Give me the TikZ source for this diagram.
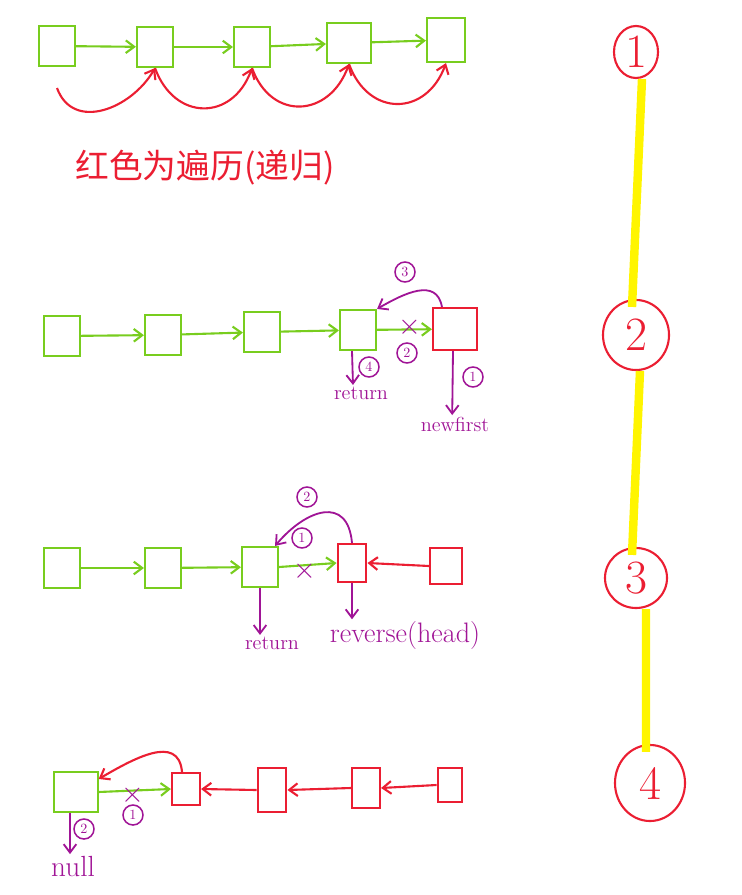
\documentclass[tikz,border=0pt]{standalone}
\usepackage{fontspec}
\newfontfamily\cjk{Noto Sans CJK SC}
\usetikzlibrary{arrows.meta,shapes.geometric}
\definecolor{lgreen}{RGB}{120,205,30}
\definecolor{hred}{RGB}{235,30,50}
\definecolor{hpurple}{RGB}{160,20,150}
\definecolor{hyellow}{RGB}{255,245,0}
\begin{document}
\begin{tikzpicture}[x=0.025cm,y=-0.025cm,
  gbox/.style={draw=lgreen,line width=1.5pt,minimum width=0.9cm,minimum height=1cm,inner sep=0pt},
  rbox/.style={draw=hred,line width=1.5pt,minimum width=0.9cm,minimum height=1cm,inner sep=0pt},
  garr/.style={draw=lgreen,line width=1.5pt,-{Straight Barb[length=6pt,width=9pt]}},
  rarr/.style={draw=hred,line width=1.5pt,-{Straight Barb[length=6pt,width=9pt]}},
  parr/.style={draw=hpurple,line width=1.3pt,-{Straight Barb[length=6pt,width=9pt]}},
  numc/.style={circle,draw=hpurple,text=hpurple,line width=1.1pt,inner sep=0pt,minimum size=0.5cm,font=\normalsize},
  xmark/.style={text=hpurple,inner sep=0pt,font=\huge},
  lbl/.style={text=hpurple,font=\Large,inner sep=1pt},
  bignum/.style={ellipse,draw=hred,text=hred,line width=1.5pt,inner sep=0pt,font=\fontsize{34}{34}\selectfont},
  hl/.style={draw=hyellow,line width=6pt}]
  \useasboundingbox (0,0) rectangle (742,895);

  % row 1: traversal
  \node[gbox] (a1) at (57,46) {};
  \node[gbox] (a2) at (155,47) {};
  \node[gbox] (a3) at (252,47) {};
  \node[gbox,minimum width=1.1cm] (a4) at (349,43) {};
  \node[gbox,minimum width=0.95cm,minimum height=1.1cm] (a5) at (446,40) {};
  \draw[garr] (a1) -- (a2);
  \draw[garr] (a2) -- (a3);
  \draw[garr] (a3) -- (a4);
  \draw[garr] (a4) -- (a5);
  \coordinate (s0) at (57,88);
  \draw[rarr] (s0) to[out=-70,in=-120,looseness=1.2] (a2.south);
  \draw[rarr] (a2.south) to[out=-70,in=-110,looseness=1.5] (a3.south);
  \draw[rarr] (a3.south) to[out=-70,in=-110,looseness=1.5] (a4.south);
  \draw[rarr] (a4.south) to[out=-70,in=-110,looseness=1.5] (a5.south);
  \node[text=hred,font=\cjk\fontsize{24}{24}\selectfont] (title) at (205,168) {红色为遍历(递归)};

  % row 2
  \node[gbox] (b1) at (62,336) {};
  \node[gbox] (b2) at (163,335) {};
  \node[gbox] (b3) at (262,332) {};
  \node[gbox] (b4) at (358,330) {};
  \node[rbox,minimum width=1.1cm,minimum height=1.05cm] (b5) at (455,329) {};
  \draw[garr] (b1) -- (b2);
  \draw[garr] (b2) -- (b3);
  \draw[garr] (b3) -- (b4);
  \draw[garr] (b4) -- (b5);
  \node[xmark] (x2) at (410,327) {$\times$};
  \node[numc] (n22) at (407,353) {2};
  \node[numc] (n23) at (405,272) {3};
  \draw[parr] ([xshift=0.25cm]b5.north west) to[out=100,in=30,looseness=1.2] (b4.north east);
  \node[lbl] (ret2) at (361,393) {return};
  \draw[parr] ([xshift=-0.15cm]b4.south) -- ([xshift=-0.2cm]ret2.north);
  \node[numc] (n24) at (369,367) {4};
  \node[lbl] (nf) at (455,424) {newfirst};
  \draw[parr] ([xshift=-0.05cm]b5.south) -- ([xshift=-0.07cm]nf.north);
  \node[numc] (n21) at (473,377) {1};

  % row 3
  \node[gbox] (c1) at (62,568) {};
  \node[gbox] (c2) at (163,568) {};
  \node[gbox] (c3) at (260,567) {};
  \node[rbox,minimum width=0.72cm,minimum height=0.95cm] (c4) at (352,563) {};
  \node[rbox,minimum width=0.8cm,minimum height=0.88cm] (c5) at (446,566) {};
  \draw[garr] (c1) -- (c2);
  \draw[garr] (c2) -- (c3);
  \draw[garr] (c3.east) -- (c4.west);
  \draw[rarr] (c5.west) -- (c4.east);
  \node[xmark] (x3) at (305,571) {$\times$};
  \node[numc] (n31) at (302,538) {1};
  \node[numc] (n32) at (307,497) {2};
  \draw[parr] (c4.north) to[out=95,in=50,looseness=1.6] ([xshift=-0.1cm]c3.north east);
  \node[lbl] (ret3) at (272,643) {return};
  \draw[parr] (c3.south) -- (c3.south |- ret3.north);
  \node[lbl,font=\fontsize{20}{20}\selectfont] (rev) at (405,635) {reverse(head)};
  \draw[parr] (c4.south) -- (c4.south |- rev.north);

  % row 4
  \node[gbox,minimum width=1.08cm] (d1) at (76,792) {};
  \node[rbox,minimum width=0.7cm,minimum height=0.8cm] (d2) at (186,789) {};
  \node[rbox,minimum width=0.72cm,minimum height=1.1cm] (d3) at (272,790) {};
  \node[rbox,minimum width=0.7cm,minimum height=1cm] (d4) at (366,788) {};
  \node[rbox,minimum width=0.62cm,minimum height=0.85cm] (d5) at (450,785) {};
  \draw[garr] (d1.east) -- (d2.west);
  \draw[rarr] (d3.west) -- (d2.east);
  \draw[rarr] (d4.west) -- (d3.east);
  \draw[rarr] (d5.west) -- (d4.east);
  \node[xmark] (x4) at (133,795) {$\times$};
  \node[numc] (n41) at (133,815) {1};
  \draw[rarr] ([xshift=-0.1cm]d2.north) to[out=95,in=30,looseness=1.2] ([yshift=-0.2cm]d1.north east);
  \node[lbl,font=\huge] (nul) at (73,866) {null};
  \draw[parr] ([xshift=-0.15cm]d1.south) -- ([xshift=-0.15cm]d1.south |- nul.north);
  \node[numc] (n42) at (84,829) {2};

  % steps
  \node[bignum,minimum width=1.1cm,minimum height=1.3cm] (e1) at (636,52) {1};
  \node[bignum,minimum width=1.65cm,minimum height=1.75cm] (e2) at (636,335) {2};
  \node[bignum,minimum width=1.55cm,minimum height=1.5cm] (e3) at (636,578) {3};
  \node[bignum,minimum width=1.75cm,minimum height=1.9cm] (e4) at (650,783) {4};
  \draw[hl] ([xshift=0.15cm]e1.south) -- ([xshift=-0.1cm,yshift=-0.2cm]e2.north);
  \draw[hl] ([xshift=0.1cm]e2.south) -- ([xshift=-0.1cm,yshift=-0.2cm]e3.north);
  \draw[hl] ([xshift=0.25cm]e3.south) -- ([xshift=-0.1cm,yshift=-0.2cm]e4.north);
\end{tikzpicture}
\end{document}
